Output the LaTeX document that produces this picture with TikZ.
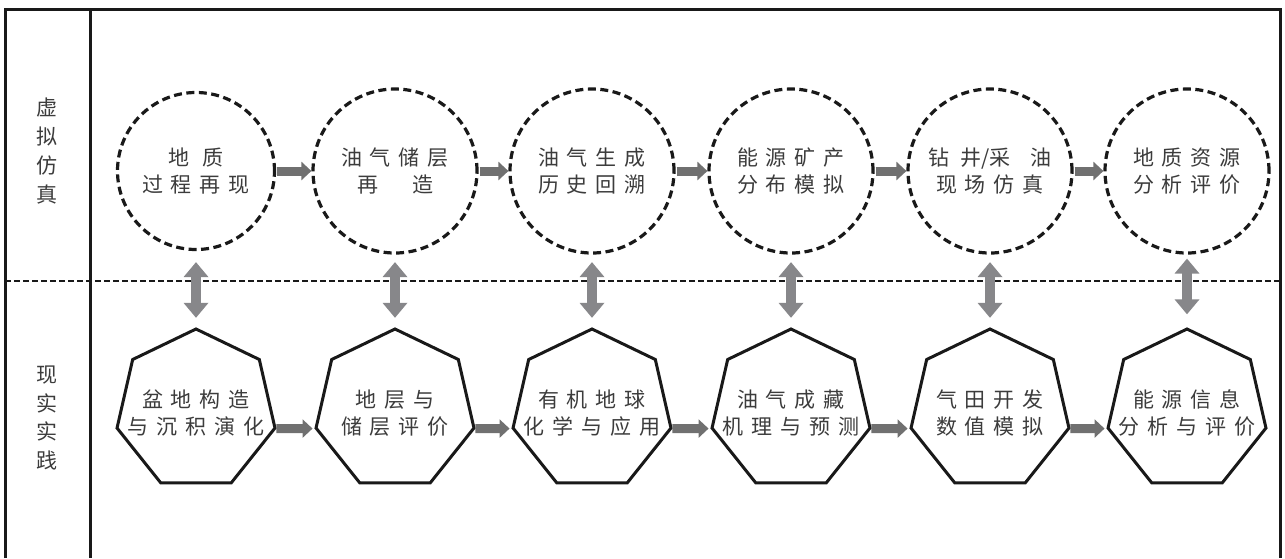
\documentclass[tikz,border=0pt]{standalone}
\usepackage{fontspec}
\newfontfamily\cjk{Noto Sans CJK SC}
\usetikzlibrary{shapes.geometric,arrows.meta}
\definecolor{txt}{RGB}{60,60,60}
\definecolor{harr}{RGB}{112,112,112}
\definecolor{varr}{RGB}{135,135,138}
\makeatletter
\newcommand\ls[1]{\let\ls@sep\relax\@tfor\ls@c:=#1\do{\ls@sep\ls@c\def\ls@sep{\hspace{8pt}}}}
\makeatother
\begin{document}
\begin{tikzpicture}[x=1pt,y=-1pt,
  lbl/.style={text=txt,font=\cjk\fontsize{21}{27}\selectfont,align=center},
  vcirc/.style={lbl,circle,draw=black!90,line width=3.2pt,dash pattern=on 8pt off 4.5pt,minimum size=164pt,inner sep=0pt},
  hept/.style={regular polygon,regular polygon sides=7,draw=black!90,line width=3pt,minimum size=162pt,inner sep=0pt},
  htext/.style={lbl,yshift=-3pt},
  harrow/.style={draw=harr,line width=9pt,-{Triangle[length=10pt,width=18pt]}},
  darrow/.style={draw=varr,line width=10pt,{Triangle[length=15pt,width=24pt]}-{Triangle[length=15pt,width=24pt]}},
  sidelbl/.style={text=txt,font=\cjk\fontsize{21}{28.7}\selectfont,align=center},
  frame/.style={draw=black!90,line width=3pt}]
\useasboundingbox (0,0) rectangle (1285,558);
% frame
\draw[frame] (5,558) -- (5,9) -- (1280,9) -- (1280,558);
\draw[frame] (90,9) -- (90,558);
\draw[draw=black!90,line width=2.5pt,dash pattern=on 6pt off 3pt] (5,281) -- (1280,281);
% side labels
\node[sidelbl] (lv) at (47,151) {虚\\拟\\仿\\真};
\node[sidelbl] (lr) at (47,418) {现\\实\\实\\践};
% circles
\node[vcirc,minimum size=157pt] (c1) at (196,171) {地\hspace{13pt}质\\\ls{过程再现}};
\node[vcirc] (c2) at (395,171) {\ls{油气储层}\\再\hspace{34pt}造};
\node[vcirc] (c3) at (592,171) {\ls{油气生成}\\\ls{历史回溯}};
\node[vcirc] (c4) at (791,171) {\ls{能源矿产}\\\ls{分布模拟}};
\node[vcirc] (c5) at (990,171) {钻\hspace{11pt}井/采\hspace{20pt}油\\\ls{现场仿真}};
\node[vcirc] (c6) at (1187,171) {\ls{地质资源}\\\ls{分析评价}};
% heptagons
\node[hept,label={[htext]center:{\ls{盆地构造}\\\ls{与沉积演化}}}] (h1) at (196,410) {};
\node[hept,label={[htext]center:{\ls{地层与}\\\ls{储层评价}}}] (h2) at (395,410) {};
\node[hept,label={[htext]center:{\ls{有机地球}\\\ls{化学与应用}}}] (h3) at (592,410) {};
\node[hept,label={[htext]center:{\ls{油气成藏}\\\ls{机理与预测}}}] (h4) at (791,410) {};
\node[hept,label={[htext]center:{\ls{气田开发}\\\ls{数值模拟}}}] (h5) at (990,410) {};
\node[hept,label={[htext]center:{\ls{能源信息}\\\ls{分析与评价}}}] (h6) at (1187,410) {};
% horizontal arrows
\draw[harrow,shorten <=1pt] (c1) -- (c2);
\draw[harrow,shorten <=1pt] (c2) -- (c3);
\draw[harrow,shorten <=1pt] (c3) -- (c4);
\draw[harrow,shorten <=1pt] (c4) -- (c5);
\draw[harrow,shorten <=1pt] (c5) -- (c6);
\draw[harrow,shorten >=2pt] (h1.347) -- (h2.193);
\draw[harrow,shorten >=2pt] (h2.347) -- (h3.193);
\draw[harrow,shorten >=2pt] (h3.347) -- (h4.193);
\draw[harrow,shorten >=2pt] (h4.347) -- (h5.193);
\draw[harrow,shorten >=2pt] (h5.347) -- (h6.193);
% vertical double arrows
\draw[darrow,shorten <=11pt,shorten >=9.5pt] (c1) -- (h1);
\draw[darrow,shorten <=7.5pt,shorten >=9.5pt] (c2) -- (h2);
\draw[darrow,shorten <=7.5pt,shorten >=9.5pt] (c3) -- (h3);
\draw[darrow,shorten <=7.5pt,shorten >=9.5pt] (c4) -- (h4);
\draw[darrow,shorten <=7.5pt,shorten >=9.5pt] (c5) -- (h5);
\draw[darrow,shorten <=4pt,shorten >=13pt] (c6) -- (h6);
\end{tikzpicture}
\end{document}
